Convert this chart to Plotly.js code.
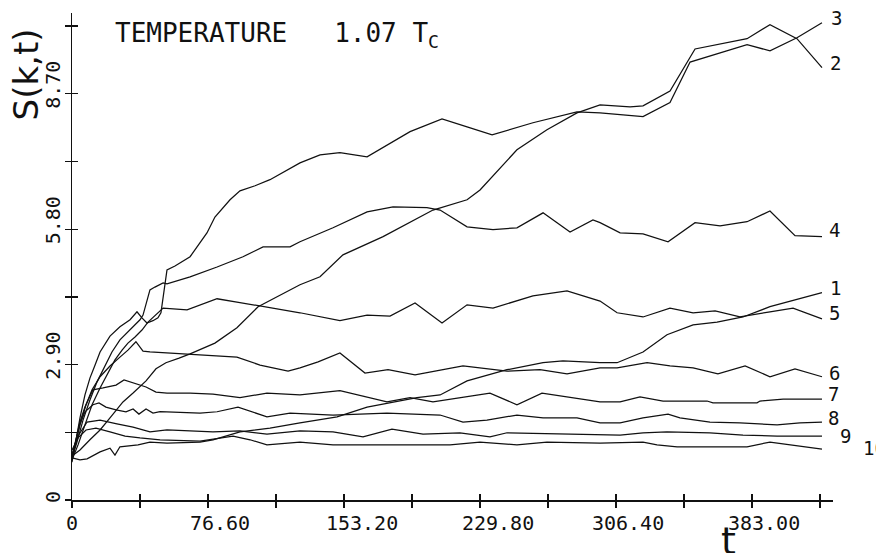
<!DOCTYPE html>
<html>
<head>
<meta charset="utf-8">
<script src="https://cdn.plot.ly/plotly-3.0.1.min.js"></script>
<style>html,body{margin:0;padding:0;background:#fff;}#chart{width:876px;height:553px;}</style>
</head>
<body>
<div id="chart"></div>
<script>
// ---- data ----
const curveNames = ["1","2","3","4","5","6","7","8","9","10"];

const t1 = [0,4.5,8.5,15.8,21.4,24.2,27.0,37.2,43.9,53.5,72.1,79.4,94.6,111.5,128.4,149.3,166.2,180.8,194.3,207.3,222.5,245.0,265.3,276.5,297.4,307.0,321.6,335.1,349.8,363.3,377.9,393.1,408.3,422.4];
const s1 = [0.90,0.86,0.88,1.03,1.11,0.96,1.14,1.18,1.24,1.22,1.24,1.29,1.46,1.54,1.65,1.78,1.99,2.10,2.19,2.25,2.55,2.79,2.94,2.98,2.94,2.94,3.17,3.54,3.75,3.81,3.92,4.14,4.29,4.44];

const t2 = [0,4.5,10.1,15.8,21.4,28.7,34.4,41.7,47.3,52.9,60.3,66.5,80.5,92.9,104.8,115.5,128.4,139.7,152.6,175.2,203.3,222.5,229.8,250.6,267.5,284.4,297.4,314.3,321.6,336.8,350.9,380.2,393.1,408.3,422.4];
const s2 = [0.94,1.07,1.29,1.50,1.76,2.10,2.29,2.55,2.81,2.94,3.04,3.13,3.36,3.69,4.14,4.35,4.61,4.78,5.25,5.64,6.21,6.43,6.64,7.50,7.93,8.29,8.46,8.42,8.44,8.76,9.66,9.88,10.18,9.88,9.26];

const t3 = [0,2.3,4.5,7.3,10.1,13.0,15.8,21.4,27.0,32.7,36.6,39.4,42.2,45.6,48.4,50.1,51.8,53.5,58.0,66.5,76.0,80.5,89.0,94.6,103.1,111.5,128.4,139.7,150.9,166.2,190.4,208.4,222.5,236.6,259.6,284.4,297.4,321.6,336.8,348.1,380.2,393.1,408.3,422.4];
const s3 = [0.81,1.29,1.76,2.25,2.61,2.89,3.17,3.51,3.71,3.86,4.03,3.90,3.79,3.84,3.90,4.01,4.50,4.93,5.01,5.21,5.72,6.06,6.43,6.62,6.73,6.86,7.22,7.39,7.44,7.35,7.89,8.16,7.99,7.82,8.08,8.31,8.29,8.21,8.51,9.38,9.75,9.62,9.90,10.22];

const t4 = [0,2.8,6.2,10.1,14.1,18.0,22.5,27.0,31.5,35.5,38.3,40.0,41.7,43.9,46.7,51.3,53.5,66.5,81.7,96.3,107.6,122.8,128.4,147.0,166.2,180.8,199.9,207.3,222.5,237.1,250.6,265.3,280.5,293.4,297.4,308.7,321.6,335.7,350.9,365.0,380.2,393.1,407.2,422.4];
const s4 = [0.90,1.24,1.71,2.14,2.53,2.83,3.17,3.43,3.60,3.75,3.86,3.96,4.18,4.50,4.56,4.65,4.63,4.78,4.99,5.21,5.42,5.42,5.53,5.83,6.17,6.28,6.26,6.21,5.85,5.79,5.83,6.15,5.74,6.00,5.94,5.72,5.70,5.53,5.94,5.87,5.96,6.19,5.66,5.64];

const t5 = [0,3.4,7.3,11.3,15.8,20.3,24.2,28.2,31.5,35.5,39.4,42.8,46.7,51.3,64.8,72.1,81.7,92.9,104.8,118.8,128.4,150.9,166.2,179.1,193.2,208.4,222.5,237.1,259.6,278.8,297.4,307.0,321.6,336.8,349.8,362.2,376.2,393.1,406.1,422.4];
const s5 = [0.86,1.18,1.61,2.04,2.40,2.74,3.00,3.21,3.36,3.49,3.64,3.81,3.94,4.11,4.07,4.18,4.31,4.24,4.16,4.07,4.01,3.84,3.96,3.94,4.22,3.79,4.18,4.11,4.37,4.48,4.26,4.01,3.92,4.11,4.01,4.05,3.92,4.03,4.11,3.88];

const t6 = [0,2.3,4.5,7.9,11.3,15.8,21.4,27.0,31.5,36.0,40.0,43.9,53.5,72.1,92.9,105.9,121.7,128.4,138.6,150.9,165.0,178.0,193.2,220.2,245.0,263.6,278.8,297.4,307.0,323.9,336.8,349.8,363.8,379.1,393.1,407.2,422.4];
const s6 = [0.86,1.24,1.61,2.04,2.36,2.64,2.87,3.06,3.21,3.39,3.19,3.17,3.15,3.11,3.06,2.89,2.76,2.83,2.96,3.15,2.72,2.79,2.68,2.87,2.76,2.79,2.70,2.83,2.83,2.94,2.87,2.83,2.70,2.87,2.64,2.81,2.64];

const t7 = [0,2.3,4.5,7.3,11.8,17.5,24.8,29.3,34.4,41.7,47.3,53.5,66.5,79.4,94.6,109.8,128.4,150.9,177.4,190.4,203.3,235.4,250.6,264.7,297.4,308.7,319.9,332.9,357.7,361.0,385.8,387.5,400.5,422.4];
const s7 = [0.90,1.29,1.67,1.99,2.36,2.40,2.46,2.57,2.51,2.42,2.31,2.29,2.29,2.27,2.19,2.29,2.25,2.34,2.10,2.19,2.10,2.29,2.04,2.29,2.10,2.10,2.21,2.12,2.12,2.08,2.08,2.12,2.16,2.16];

const t8 = [0,2.3,4.5,7.3,11.8,15.2,19.1,24.8,30.4,34.4,37.7,41.7,45.6,49.6,72.1,81.7,93.5,109.8,122.8,147.0,177.4,207.3,220.2,233.7,250.6,265.3,284.4,297.4,308.7,321.6,335.7,342.4,359.3,376.2,397.1,410.0,422.4];
const s8 = [0.96,1.33,1.63,1.89,2.04,2.08,1.99,1.93,1.89,1.95,1.84,1.95,1.86,1.89,1.86,1.89,1.99,1.78,1.86,1.82,1.86,1.82,1.67,1.71,1.82,1.76,1.76,1.65,1.65,1.76,1.84,1.76,1.67,1.65,1.61,1.65,1.67];

const t9 = [0,3.4,8.5,15.8,25.3,34.4,43.9,53.5,79.4,94.6,109.8,128.4,147.0,163.9,180.2,197.7,218.5,235.4,245.0,297.4,308.7,321.6,335.1,359.3,377.9,397.1,422.4];
const s9 = [0.96,1.37,1.67,1.71,1.63,1.56,1.46,1.50,1.46,1.48,1.41,1.48,1.46,1.35,1.52,1.41,1.44,1.35,1.44,1.41,1.39,1.44,1.46,1.44,1.39,1.37,1.37];

const t10 = [0,3.4,7.9,13.5,21.4,29.9,38.3,49.6,72.1,90.7,100.3,109.8,128.4,147.0,184.7,212.9,229.8,250.6,267.5,297.4,321.6,329.5,340.8,380.2,393.1,406.1,422.4];
const s10 = [1.07,1.33,1.50,1.54,1.46,1.37,1.33,1.29,1.26,1.37,1.29,1.18,1.24,1.18,1.18,1.18,1.24,1.18,1.24,1.22,1.24,1.18,1.14,1.14,1.24,1.18,1.09];

// axis ticks
const xTickVals = [0,38.3,76.6,114.9,153.2,191.5,229.8,268.1,306.4,344.7,383.0,421.3];
const xTickText = ["0","","76.60","","153.20","","229.80","","306.40","","383.00",""];
const yTickVals = [0,1.45,2.9,4.35,5.8,7.25,8.7,10.15];
const yTickText = ["0","","2.90","","5.80","","8.70",""];

// ---- styling / layout (not data) ----
const tList = [t1,t2,t3,t4,t5,t6,t7,t8,t9,t10];
const sList = [s1,s2,s3,s4,s5,s6,s7,s8,s9,s10];
const labelShift = [[6,5],[6,5],[7,5],[5,7],[5,6],[5,4],[4,5],[4,4],[16,0],[39,1]];
const NB = "\u00a0";
// plotter labels sit a little right of (x) / above (y) their ticks: pad with leading spaces
const xPad = [0,0,2,0,3,0,3,0,2,0,2,0];
const yPad = [0,0,1,0,1,0,1,0];
const ink = "#111";
const mono = "DejaVu Sans Mono, monospace";
const xRange = [0, 428.6];
const yRange = [0, 10.43];

const traces = curveNames.map((n, i) => ({
  x: tList[i], y: sList[i], type: "scatter", mode: "lines", name: n,
  line: {color: ink, width: 1.25}, hoverinfo: "skip", showlegend: false
}));
// helper traces that only activate the overlay axes (inner half of the cross ticks)
traces.push({x: [xRange[0]], y: [yRange[0]], xaxis: "x2", yaxis: "y", mode: "markers",
  marker: {opacity: 0, size: 1}, hoverinfo: "skip", showlegend: false, type: "scatter"});
traces.push({x: [xRange[0]], y: [yRange[0]], xaxis: "x", yaxis: "y2", mode: "markers",
  marker: {opacity: 0, size: 1}, hoverinfo: "skip", showlegend: false, type: "scatter"});

const annotations = curveNames.map((n, i) => {
  const tt = tList[i], ss = sList[i];
  return {x: tt[tt.length-1], y: ss[ss.length-1], xref: "x", yref: "y", text: n,
    showarrow: false, xanchor: "left", yanchor: "middle",
    xshift: labelShift[i][0], yshift: labelShift[i][1],
    font: {family: mono, size: 19, color: ink}};
});
annotations.push({text: "S(k,t)", xref: "paper", yref: "paper", x: -0.061, y: 0.873,
  xanchor: "center", yanchor: "middle", textangle: -90, showarrow: false,
  font: {family: "DejaVu Sans, sans-serif", size: 34, color: ink}});
annotations.push({text: "t", xref: "paper", yref: "paper", x: 0.863, y: -0.085,
  xanchor: "center", yanchor: "middle", showarrow: false,
  font: {family: "DejaVu Sans, sans-serif", size: 38, color: ink}});

const baseX = {range: xRange, showgrid: false, zeroline: false, tickmode: "array",
  tickvals: xTickVals, ticklen: 6, tickwidth: 1.3, tickcolor: ink, fixedrange: true};
const baseY = {range: yRange, showgrid: false, zeroline: false, tickmode: "array",
  tickvals: yTickVals, ticklen: 6, tickwidth: 1.3, tickcolor: ink, fixedrange: true};

const layout = {
  width: 876, height: 553,
  margin: {l: 72, r: 43, t: 13, b: 53},
  paper_bgcolor: "#fff", plot_bgcolor: "rgba(0,0,0,0)",
  showlegend: false,
  title: {text: "TEMPERATURE" + NB+NB+NB + "1.07" + NB + "T<sub>C</sub>",
    font: {family: mono, size: 26, color: ink},
    xref: "container", x: 115/876, xanchor: "left", yref: "container", y: 1 - 33/553, yanchor: "middle"},
  xaxis: Object.assign({}, baseX, {ticks: "outside", showline: true, linecolor: ink, linewidth: 1.5,
    ticktext: xTickText.map((s, i) => NB.repeat(xPad[i]) + s), ticklabelstandoff: -2,
    tickfont: {family: mono, size: 20, color: ink}}),
  yaxis: Object.assign({}, baseY, {ticks: "outside", showline: true, linecolor: ink, linewidth: 1.5,
    ticktext: yTickText.map((s, i) => NB.repeat(yPad[i]) + s), ticklabelstandoff: -3,
    tickangle: -90, tickfont: {family: mono, size: 20, color: ink}}),
  xaxis2: Object.assign({}, baseX, {overlaying: "x", anchor: "y", side: "bottom", ticks: "inside",
    showline: false, showticklabels: false}),
  yaxis2: Object.assign({}, baseY, {overlaying: "y", anchor: "x", side: "left", ticks: "inside",
    showline: false, showticklabels: false}),
  annotations: annotations
};

Plotly.newPlot("chart", traces, layout, {staticPlot: true, displayModeBar: false});
</script>
</body>
</html>
